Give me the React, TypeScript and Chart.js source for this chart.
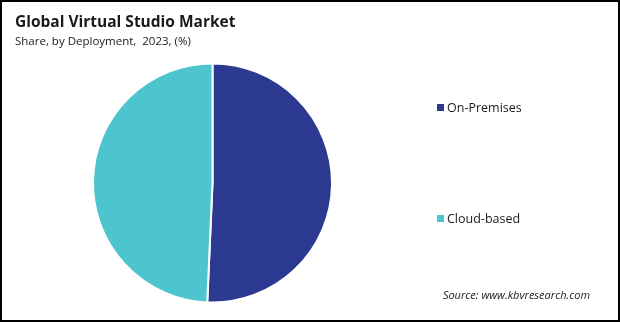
import React, { useEffect, useRef } from "react";
import { Chart, registerables } from "chart.js";

Chart.register(...registerables);

const TITLE = "Global Virtual Studio Market";
const SUBTITLE = "Share, by Deployment,  2023, (%)";
const SOURCE = "Source: www.kbvresearch.com";

const categories = ["On-Premises", "Cloud-based"];
const shareValues = [50.7, 49.3];
const sliceColors = ["#2B3990", "#4DC5CF"];

const FONT = '"Open Sans", "Noto Sans", sans-serif';

export default function App() {
  const canvasRef = useRef<HTMLCanvasElement | null>(null);

  useEffect(() => {
    const canvas = canvasRef.current;
    if (!canvas) return;
    const chart = new Chart(canvas, {
      type: "pie",
      data: {
        labels: categories,
        datasets: [
          {
            data: shareValues,
            backgroundColor: sliceColors,
            borderColor: "#ffffff",
            borderWidth: 2,
            radius: 119.5,
          },
        ],
      },
      options: {
        responsive: false,
        animation: false,
        rotation: 0,
        layout: {
          padding: { left: 87.5, right: 282.5, top: 64, bottom: 20 },
        },
        plugins: {
          legend: { display: false },
          tooltip: { enabled: false },
          title: { display: false },
        },
      },
    });
    return () => chart.destroy();
  }, []);

  return (
    <div
      style={{
        position: "fixed",
        left: 0,
        top: 0,
        width: 620,
        height: 322,
        background: "#ffffff",
        overflow: "hidden",
        fontFamily: FONT,
        color: "#000",
      }}
    >
      <canvas
        ref={canvasRef}
        width={620}
        height={322}
        style={{ position: "absolute", left: 0, top: 0, width: 620, height: 322 }}
      />
      <div
        style={{
          position: "absolute",
          left: 15,
          top: 13.5,
          fontSize: 15.5,
          lineHeight: "15.5px",
          fontWeight: 700,
          whiteSpace: "pre",
          color: "#1a1a1a",
        }}
      >
        {TITLE}
      </div>
      <div
        style={{
          position: "absolute",
          left: 15,
          top: 35.3,
          fontSize: 11.5,
          lineHeight: "11.5px",
          whiteSpace: "pre",
          color: "#1a1a1a",
        }}
      >
        {SUBTITLE}
      </div>
      {categories.map((c, i) => (
        <div
          key={c}
          style={{
            position: "absolute",
            left: 437,
            top: (i === 0 ? 107.5 : 218.5) - 8,
            height: 16,
            display: "flex",
            alignItems: "center",
            fontSize: 12.5,
            lineHeight: "16px",
            whiteSpace: "pre",
            color: "#1a1a1a",
          }}
        >
          <span
            style={{
              display: "inline-block",
              width: 7,
              height: 7,
              background: sliceColors[i],
              marginRight: 3,
            }}
          />
          <span>{c}</span>
        </div>
      ))}
      <div
        style={{
          position: "absolute",
          right: 30,
          top: 289.2,
          fontSize: 11,
          lineHeight: "11px",
          fontStyle: "italic",
          whiteSpace: "pre",
          color: "#1a1a1a",
        }}
      >
        {SOURCE}
      </div>
      <div
        style={{
          position: "absolute",
          left: 0,
          top: 0,
          width: 620,
          height: 322,
          boxSizing: "border-box",
          border: "2px solid #000",
          pointerEvents: "none",
        }}
      />
    </div>
  );
}
